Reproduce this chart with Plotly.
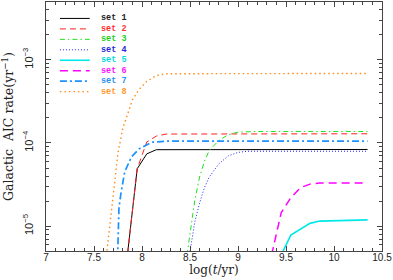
import plotly.graph_objects as go

# ---------------- data ----------------
names = ["set 1", "set 2", "set 3", "set 4", "set 5", "set 6", "set 7", "set 8"]
colors = ["#000000", "#ff2020", "#20e020", "#2020ff", "#00e8e8", "#ff00ff", "#1e90ff", "#ff8c1a"]
text_colors = ["#222222", "#ff3030", "#20d020", "#2a2ad8", "#00dcdc", "#ff10ff", "#2a90f0", "#ff9a30"]

x_set1 = [7.85, 7.95, 8.05, 8.15, 10.35]
y_set1 = [4.7e-6, 4.9e-5, 7.4e-5, 8.3e-5, 8.35e-5]

x_set2 = [7.85, 7.95, 8.05, 8.15, 8.25, 10.35]
y_set2 = [4.7e-6, 4.9e-5, 1.03e-4, 1.21e-4, 1.28e-4, 1.29e-4]

x_set3 = [8.45, 8.50, 8.55, 8.60, 8.65, 8.70, 8.80, 8.90, 9.00, 9.20, 10.35]
y_set3 = [3.2e-6, 8.3e-6, 2.04e-5, 3.9e-5, 6.0e-5, 8.1e-5, 1.07e-4, 1.26e-4, 1.35e-4, 1.375e-4, 1.375e-4]

x_set4 = [8.45, 8.55, 8.60, 8.65, 8.70, 8.80, 8.90, 9.00, 9.10, 10.35]
y_set4 = [2.2e-6, 1.12e-5, 1.9e-5, 2.9e-5, 3.9e-5, 5.6e-5, 7.0e-5, 7.7e-5, 7.95e-5, 7.95e-5]

x_set5 = [9.45, 9.55, 9.75, 9.85, 10.35]
y_set5 = [4.5e-6, 7.8e-6, 1.08e-5, 1.15e-5, 1.19e-5]

x_set6 = [9.35, 9.45, 9.55, 9.65, 9.75, 9.85, 10.35]
y_set6 = [4.5e-6, 1.45e-5, 2.2e-5, 2.9e-5, 3.2e-5, 3.3e-5, 3.3e-5]

x_set7 = [7.745, 7.76, 7.78, 7.82, 7.89, 7.97, 8.10, 8.25, 10.35]
y_set7 = [4.0e-6, 1.66e-5, 2.45e-5, 4.5e-5, 6.8e-5, 8.5e-5, 1.02e-4, 1.05e-4, 1.05e-4]

x_set8 = [7.63, 7.70, 7.75, 7.80, 7.85, 7.90, 7.97, 8.05, 8.15, 8.25, 10.33]
y_set8 = [4.5e-6, 2.6e-5, 7.6e-5, 1.5e-4, 2.24e-4, 3.3e-4, 4.4e-4, 5.5e-4, 6.45e-4, 6.8e-4, 6.85e-4]

xs = [x_set1, x_set2, x_set3, x_set4, x_set5, x_set6, x_set7, x_set8]
ys = [y_set1, y_set2, y_set3, y_set4, y_set5, y_set6, y_set7, y_set8]

x_ticks = [7, 7.5, 8, 8.5, 9, 9.5, 10, 10.5]
x_ticklabels = ["7", "7.5", "8", "8.5", "9", "9.5", "10", "10.5"]
y_ticks = [1e-5, 1e-4, 1e-3]
y_ticklabels = ["10<sup>\u22125</sup>", "10<sup>\u22124</sup>", "10<sup>\u22123</sup>"]

# ---------------- styles ----------------
dashes = ["solid", "6px,4px", "5px,3px,1.5px,3px", "1px,2px", "solid", "8px,5px", "7px,3px,2px,3px", "1.5px,3px"]
widths = [1.0, 1.0, 1.0, 1.0, 1.6, 1.5, 1.7, 1.4]

fig = go.Figure()
for i in range(8):
    fig.add_trace(go.Scatter(
        x=xs[i], y=ys[i], mode="lines", name=names[i],
        line=dict(color=colors[i], width=widths[i], dash=dashes[i]),
        showlegend=False, cliponaxis=True, hoverinfo="skip",
    ))

# manual legend (compact, like the original)
plot_l, plot_r, plot_t, plot_b = 46, 384, 1, 251
pw, ph = plot_r - plot_l, plot_b - plot_t
shapes = []
annotations = []
for i in range(8):
    py = 17.5 + 10.5 * i
    yp = (plot_b - py) / ph
    shapes.append(dict(type="line", xref="paper", yref="paper",
                       x0=(60 - plot_l) / pw, x1=(90 - plot_l) / pw, y0=yp, y1=yp,
                       line=dict(color=colors[i], width=widths[i], dash=dashes[i])))
    annotations.append(dict(xref="paper", yref="paper", x=(99 - plot_l) / pw, y=yp,
                            text="<b>" + names[i] + "</b>", showarrow=False,
                            xanchor="left", yanchor="middle",
                            font=dict(family="Liberation Mono", size=8.5, color=text_colors[i])))

fig.update_layout(
    width=393, height=280,
    margin=dict(l=plot_l, r=393 - plot_r, t=plot_t, b=280 - plot_b),
    paper_bgcolor="white", plot_bgcolor="white",
    shapes=shapes, annotations=annotations,
    showlegend=False,
)
fig.update_xaxes(
    range=[7, 10.5], tickvals=x_ticks, ticktext=x_ticklabels,
    showline=True, linecolor="#444444", linewidth=1, mirror="ticks",
    ticks="inside", ticklen=5, tickcolor="#444444", showgrid=False, zeroline=False,
    minor=dict(ticks="inside", ticklen=3, dtick=0.1, tick0=7, tickcolor="#444444", showgrid=False),
    tickfont=dict(family="Liberation Sans", size=10, color="#222222"),
    ticklabelstandoff=-3, ticklabeloverflow="allow",
    title=dict(text="log(<i>t</i>/yr)", font=dict(family="DejaVu Serif", size=12, color="#222222"), standoff=3),
)
minor_y = [m * 10.0 ** e for e in range(-6, -1) for m in range(2, 10)]
fig.update_yaxes(
    type="log", range=[-5.299, -2.305], tickvals=y_ticks, ticktext=y_ticklabels, tickangle=-90,
    showline=True, linecolor="#444444", linewidth=1, mirror="ticks",
    ticks="inside", ticklen=5, tickcolor="#444444", showgrid=False, zeroline=False,
    minor=dict(ticks="inside", ticklen=3, tickvals=minor_y, tickcolor="#444444", showgrid=False),
    tickfont=dict(family="Liberation Sans", size=11, color="#222222"),
    ticklabelstandoff=8,
    title=dict(text="Galactic  AIC rate(yr<sup>\u22121</sup>)", font=dict(family="DejaVu Serif", size=12.5, color="#222222"), standoff=6),
)
fig.write_html("out.html", config={"displayModeBar": False},
               post_script="document.body.style.margin='0';document.body.style.overflow='hidden';")
